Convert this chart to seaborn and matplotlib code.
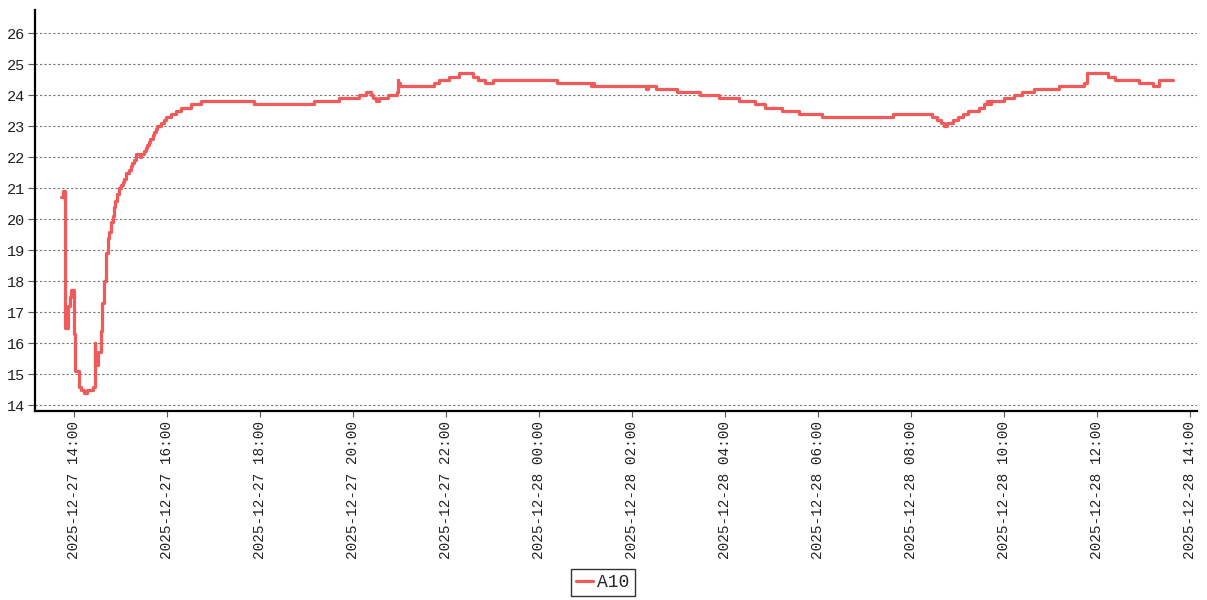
import matplotlib
matplotlib.use("Agg")
import matplotlib.pyplot as plt
import seaborn as sns
import pandas as pd

# ---- data: sensor A10 readings (time of change, value) ----
times = [
    "2025-12-27 13:43", "2025-12-27 13:46", "2025-12-27 13:49", "2025-12-27 13:52",
    "2025-12-27 13:55", "2025-12-27 13:57", "2025-12-27 14:00", "2025-12-27 14:01",
    "2025-12-27 14:07", "2025-12-27 14:09", "2025-12-27 14:13", "2025-12-27 14:17",
    "2025-12-27 14:25", "2025-12-27 14:27", "2025-12-27 14:28", "2025-12-27 14:31",
    "2025-12-27 14:35", "2025-12-27 14:37", "2025-12-27 14:39", "2025-12-27 14:41",
    "2025-12-27 14:42", "2025-12-27 14:44", "2025-12-27 14:45", "2025-12-27 14:48",
    "2025-12-27 14:50", "2025-12-27 14:52", "2025-12-27 14:53", "2025-12-27 14:56",
    "2025-12-27 14:58", "2025-12-27 15:01", "2025-12-27 15:03", "2025-12-27 15:05",
    "2025-12-27 15:08", "2025-12-27 15:11", "2025-12-27 15:14", "2025-12-27 15:15",
    "2025-12-27 15:18", "2025-12-27 15:20", "2025-12-27 15:25", "2025-12-27 15:27",
    "2025-12-27 15:31", "2025-12-27 15:33", "2025-12-27 15:35", "2025-12-27 15:37",
    "2025-12-27 15:39", "2025-12-27 15:42", "2025-12-27 15:44", "2025-12-27 15:46",
    "2025-12-27 15:48", "2025-12-27 15:52", "2025-12-27 15:56", "2025-12-27 15:59",
    "2025-12-27 16:05", "2025-12-27 16:12", "2025-12-27 16:18", "2025-12-27 16:31",
    "2025-12-27 16:44", "2025-12-27 17:52", "2025-12-27 19:10", "2025-12-27 19:42",
    "2025-12-27 20:08", "2025-12-27 20:17", "2025-12-27 20:23", "2025-12-27 20:26",
    "2025-12-27 20:30", "2025-12-27 20:34", "2025-12-27 20:46", "2025-12-27 20:57",
    "2025-12-27 20:58", "2025-12-27 20:59", "2025-12-27 21:01", "2025-12-27 21:45",
    "2025-12-27 21:51", "2025-12-27 22:04", "2025-12-27 22:17", "2025-12-27 22:35",
    "2025-12-27 22:41", "2025-12-27 22:50", "2025-12-27 23:01", "2025-12-28 00:24",
    "2025-12-28 01:07", "2025-12-28 01:09", "2025-12-28 01:11", "2025-12-28 02:18",
    "2025-12-28 02:21", "2025-12-28 02:31", "2025-12-28 02:59", "2025-12-28 03:28",
    "2025-12-28 03:52", "2025-12-28 04:18", "2025-12-28 04:39", "2025-12-28 04:52",
    "2025-12-28 05:14", "2025-12-28 05:36", "2025-12-28 06:06", "2025-12-28 07:37",
    "2025-12-28 08:27", "2025-12-28 08:34", "2025-12-28 08:39", "2025-12-28 08:43",
    "2025-12-28 08:47", "2025-12-28 08:54", "2025-12-28 09:01", "2025-12-28 09:07",
    "2025-12-28 09:14", "2025-12-28 09:28", "2025-12-28 09:34", "2025-12-28 09:39",
    "2025-12-28 09:41", "2025-12-28 09:44", "2025-12-28 10:00", "2025-12-28 10:13",
    "2025-12-28 10:23", "2025-12-28 10:39", "2025-12-28 11:11", "2025-12-28 11:43",
    "2025-12-28 11:48", "2025-12-28 12:14", "2025-12-28 12:24", "2025-12-28 12:54",
    "2025-12-28 13:12", "2025-12-28 13:20", "2025-12-28 13:39",
]
values = [
    20.7, 20.9, 16.5, 17.2,
    17.5, 17.7, 16.3, 15.1,
    14.6, 14.5, 14.4, 14.5,
    14.6, 16.0, 15.3, 15.7,
    16.4, 17.3, 18.0, 18.6,
    18.9, 19.4, 19.6, 19.9,
    20.1, 20.4, 20.6, 20.8,
    21.0, 21.1, 21.2, 21.3,
    21.5, 21.6, 21.7, 21.8,
    21.9, 22.1, 22.0, 22.1,
    22.2, 22.3, 22.4, 22.5,
    22.6, 22.7, 22.8, 22.9,
    23.0, 23.1, 23.2, 23.3,
    23.4, 23.5, 23.6, 23.7,
    23.8, 23.7, 23.8, 23.9,
    24.0, 24.1, 24.0, 23.9,
    23.8, 23.9, 24.0, 24.1,
    24.5, 24.4, 24.3, 24.4,
    24.5, 24.6, 24.7, 24.6,
    24.5, 24.4, 24.5, 24.4,
    24.3, 24.4, 24.3, 24.2,
    24.3, 24.2, 24.1, 24.0,
    23.9, 23.8, 23.7, 23.6,
    23.5, 23.4, 23.3, 23.4,
    23.3, 23.2, 23.1, 23.0,
    23.1, 23.2, 23.3, 23.4,
    23.5, 23.6, 23.7, 23.8,
    23.7, 23.8, 23.9, 24.0,
    24.1, 24.2, 24.3, 24.4,
    24.7, 24.6, 24.5, 24.4,
    24.3, 24.5, 24.5,
]
series_name = "A10"
y_ticks = [14, 15, 16, 17, 18, 19, 20, 21, 22, 23, 24, 25, 26]
x_tick_labels = [
    "2025-12-27 14:00", "2025-12-27 16:00", "2025-12-27 18:00", "2025-12-27 20:00",
    "2025-12-27 22:00", "2025-12-28 00:00", "2025-12-28 02:00", "2025-12-28 04:00",
    "2025-12-28 06:00", "2025-12-28 08:00", "2025-12-28 10:00", "2025-12-28 12:00",
    "2025-12-28 14:00",
]

df = pd.DataFrame({"time": pd.to_datetime(times), "value": values, "sensor": series_name})

sns.set_theme(style="white")
plt.rcParams["font.family"] = ["Liberation Mono", "DejaVu Sans Mono"]

fig = plt.figure(figsize=(12.07, 6.0), dpi=100)
ax = fig.add_axes([0.029, 0.315, 0.9625, 0.668])

sns.lineplot(data=df, x="time", y="value", hue="sensor", palette=["#f05a5a"],
             linewidth=2.3, drawstyle="steps-post", ax=ax, legend=False)

ax.set_xlim(pd.Timestamp("2025-12-27 13:10"), pd.Timestamp("2025-12-28 14:09"))
ax.set_ylim(13.81, 26.74)
ax.set_yticks(y_ticks)
ax.set_yticklabels([str(v) for v in y_ticks])
ax.set_xticks(pd.to_datetime(x_tick_labels))
ax.set_xticklabels(x_tick_labels, rotation=90, va="top", ha="center")

ax.set_xlabel("")
ax.set_ylabel("")
ax.yaxis.grid(True, linestyle=(0, (2, 2)), color="#777777", linewidth=0.8)
ax.xaxis.grid(False)
for s in ["top", "right"]:
    ax.spines[s].set_visible(False)
for s in ["left", "bottom"]:
    ax.spines[s].set_color("black")
    ax.spines[s].set_linewidth(1.6)

ax.tick_params(axis="x", which="major", bottom=True, length=4, width=0.8,
               color="#555555", labelsize=10.4, labelcolor="#222222", pad=3)
ax.tick_params(axis="y", which="major", left=True, length=5, width=0.8,
               color="#555555", labelsize=11, labelcolor="#222222", pad=2)

handle = plt.Line2D([0], [0], color="#f05a5a", linewidth=2.3)
leg = fig.legend([handle], [series_name], loc="lower center",
                 bbox_to_anchor=(0.4995, 0.0), frameon=True, fancybox=False,
                 fontsize=13, handlelength=0.9, handletextpad=0.25,
                 borderpad=0.3, borderaxespad=0.2)
leg.get_frame().set_edgecolor("black")
leg.get_frame().set_linewidth(1.0)

fig.savefig("out.png", dpi=100)
